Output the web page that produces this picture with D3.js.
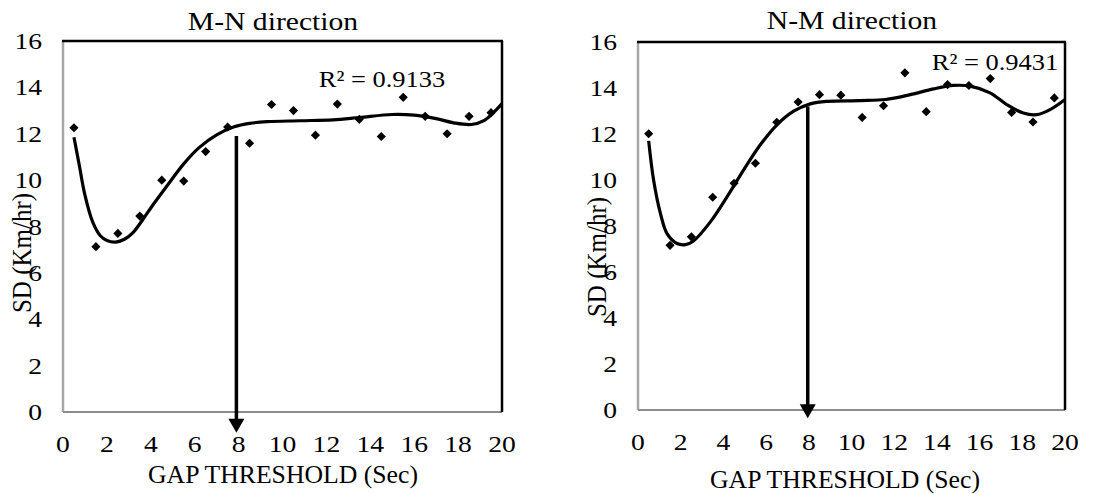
<!DOCTYPE html>
<html>
<head>
<meta charset="utf-8">
<script src="https://cdn.jsdelivr.net/npm/d3@7"></script>
<style>
  body { margin: 0; background: #fff; }
  text { font-family: "Liberation Serif", "Times New Roman", serif; fill: #000; }
</style>
</head>
<body>
<svg id="chart" width="1101" height="494"></svg>
<script>
// Gap threshold (s) at which the speed standard deviation was measured
const gapSec = [0.5, 1.5, 2.5, 3.5, 4.5, 5.5, 6.5, 7.5, 8.5, 9.5, 10.5, 11.5, 12.5, 13.5, 14.5, 15.5, 16.5, 17.5, 18.5, 19.5];
// SD of speed (km/hr), M-N direction
const sdMN = [12.26, 7.13, 7.70, 8.45, 10.00, 9.96, 11.23, 12.29, 11.59, 13.26, 13.00, 11.94, 13.28, 12.62, 11.88, 13.57, 12.75, 12.00, 12.75, 12.91];
// SD of speed (km/hr), N-M direction
const sdNM = [12.01, 7.16, 7.53, 9.25, 9.86, 10.73, 12.51, 13.39, 13.71, 13.69, 12.72, 13.23, 14.66, 12.97, 14.15, 14.11, 14.41, 12.94, 12.52, 13.57];

// Polynomial trend lines (gap s, SD km/hr)
const trendMNx = [0.5, 0.75, 1.0, 1.35, 1.7, 2.0, 2.4, 2.8, 3.2, 3.6, 4.0, 4.7, 5.5, 6.2, 7.0, 7.8, 8.5, 9.3, 10.8, 12.3, 13.5, 15.0, 16.0, 17.0, 17.8, 18.6, 19.2, 19.6, 20];
const trendMNy = [11.85, 10.6, 9.35, 8.2, 7.6, 7.4, 7.33, 7.45, 7.75, 8.25, 8.8, 9.7, 10.7, 11.4, 11.95, 12.3, 12.45, 12.52, 12.56, 12.6, 12.7, 12.83, 12.8, 12.65, 12.47, 12.4, 12.58, 12.9, 13.3];
const trendNMx = [0.5, 0.73, 1.05, 1.36, 1.83, 2.22, 2.6, 3.39, 4.17, 4.95, 5.73, 6.51, 7.29, 8.07, 8.85, 10.4, 11.6, 12.75, 13.84, 14.77, 15.55, 16.49, 17.27, 18.05, 18.67, 19.3, 20];
const trendNMy = [11.7, 10.0, 8.55, 7.67, 7.24, 7.19, 7.35, 8.18, 9.27, 10.44, 11.53, 12.4, 12.99, 13.31, 13.42, 13.45, 13.5, 13.71, 13.96, 14.11, 14.08, 13.79, 13.28, 12.91, 12.84, 13.06, 13.5];

const xTicks = [0, 2, 4, 6, 8, 10, 12, 14, 16, 18, 20];
const yTicks = [0, 2, 4, 6, 8, 10, 12, 14, 16];
const panelTitles = ["M-N direction", "N-M direction"];
const r2Labels = ["R² = 0.9133", "R² = 0.9431"];
// Chosen threshold marked by the arrow, and the SD span the arrow covers (km/hr)
const thresholdSec = [7.9, 7.95];
const arrowStartSd = [11.9, 13.2];
const arrowTipSd = [-0.9, -0.36];
const xTitle = "GAP THRESHOLD (Sec)";
const yTitle = "SD (Km/hr)";

const svg = d3.select("#chart");

// Text drawn slightly wide (horizontal scale sx)
function label(g, x, y, str, size, anchor, sx) {
  return g.append("text")
    .attr("transform", `translate(${x},${y}) scale(${sx},1)`)
    .attr("text-anchor", anchor).attr("font-size", size).text(str);
}

const panels = [
  {id: 0, values: sdMN, tx: trendMNx, ty: trendMNy, box: {l: 63, r: 502, t: 41, b: 412},
   titleX: 273, titleY: 30, r2X: 382, r2Y: 87, yTitleX: 31, yTitleY: 253, xTitleX: 283, xTitleY: 483, tickY: 452},
  {id: 1, values: sdNM, tx: trendNMx, ty: trendNMy, box: {l: 638, r: 1065, t: 42, b: 410},
   titleX: 852, titleY: 29, r2X: 995, r2Y: 70, yTitleX: 606, yTitleY: 257, xTitleX: 845, xTitleY: 488, tickY: 450}
];

panels.forEach(p => {
  const g = svg.append("g");
  const x = d3.scaleLinear().domain([0, 20]).range([p.box.l, p.box.r]);
  const y = d3.scaleLinear().domain([0, 16]).range([p.box.b, p.box.t]);

  // plot frame: grey left/bottom, black top/right
  g.append("line").attr("x1", p.box.l).attr("x2", p.box.l).attr("y1", p.box.t).attr("y2", p.box.b)
    .attr("stroke", "#a6a6a6").attr("stroke-width", 2.5);
  g.append("line").attr("x1", p.box.l).attr("x2", p.box.r).attr("y1", p.box.b).attr("y2", p.box.b)
    .attr("stroke", "#8c8c8c").attr("stroke-width", 2);
  g.append("line").attr("x1", p.box.l - 1).attr("x2", p.box.r + 1).attr("y1", p.box.t).attr("y2", p.box.t)
    .attr("stroke", "#000").attr("stroke-width", 2.5);
  g.append("line").attr("x1", p.box.r).attr("x2", p.box.r).attr("y1", p.box.t).attr("y2", p.box.b)
    .attr("stroke", "#000").attr("stroke-width", 2.5);

  // tick labels
  yTicks.forEach(d => label(g, p.box.l - 21, y(d) + 8, d, 24, "end", 1.15));
  xTicks.forEach(d => label(g, x(d), p.tickY, d, 24, "middle", 1.15));

  // titles
  label(g, p.titleX, p.titleY, panelTitles[p.id], 26, "middle", 1.14);
  label(g, p.xTitleX, p.xTitleY, xTitle, 24.5, "middle", 1.05);
  g.append("text").attr("transform", `translate(${p.yTitleX},${p.yTitleY}) rotate(-90) scale(1,1.12)`)
    .attr("text-anchor", "middle").attr("font-size", 25).text(yTitle);

  // polynomial trend line
  const clipId = "clip" + p.id;
  svg.append("clipPath").attr("id", clipId).append("rect")
    .attr("x", p.box.l).attr("y", p.box.t).attr("width", p.box.r - p.box.l).attr("height", p.box.b - p.box.t);
  g.append("path").datum(d3.zip(p.tx, p.ty))
    .attr("clip-path", `url(#${clipId})`)
    .attr("fill", "none").attr("stroke", "#000").attr("stroke-width", 3.2)
    .attr("d", d3.line().curve(d3.curveCatmullRom.alpha(0.5)).x(d => x(d[0])).y(d => y(d[1])));

  // data markers (diamonds)
  g.selectAll(".pt").data(gapSec).join("path")
    .attr("transform", (d, i) => `translate(${x(d)},${y(p.values[i])}) rotate(45)`)
    .attr("d", d3.symbol(d3.symbolSquare, 42)())
    .attr("fill", "#000");

  // R² annotation
  label(g, p.r2X, p.r2Y, r2Labels[p.id], 23, "middle", 1.15);

  // threshold arrow
  const ax = x(thresholdSec[p.id]);
  const tipY = y(arrowTipSd[p.id]);
  const headH = 14, headW = 8;
  g.append("line").attr("x1", ax).attr("x2", ax)
    .attr("y1", y(arrowStartSd[p.id])).attr("y2", tipY - headH + 1)
    .attr("stroke", "#000").attr("stroke-width", 3.5);
  g.append("path")
    .attr("d", `M${ax - headW},${tipY - headH} L${ax + headW},${tipY - headH} L${ax},${tipY} Z`)
    .attr("fill", "#000");
});
</script>
</body>
</html>
